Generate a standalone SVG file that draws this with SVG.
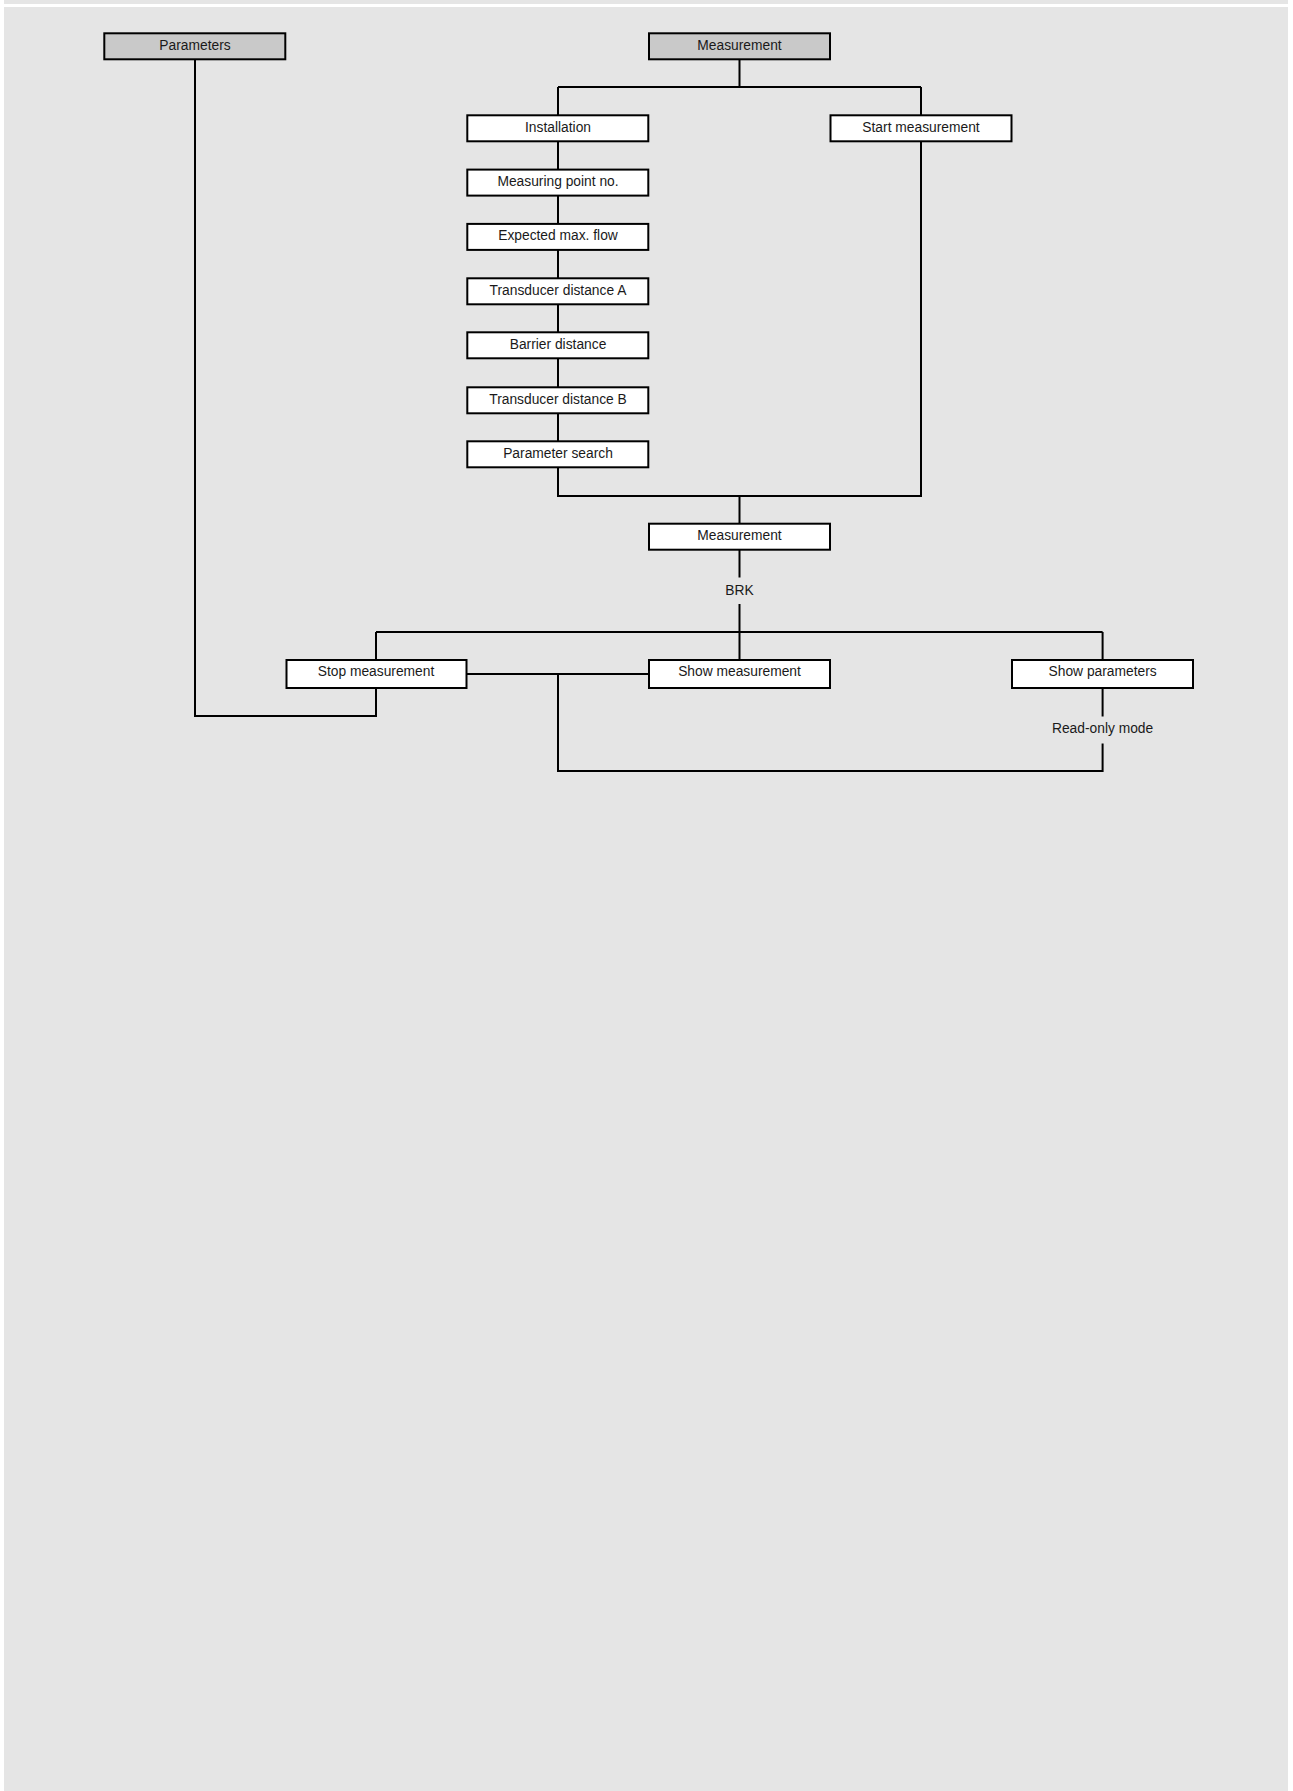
<svg xmlns="http://www.w3.org/2000/svg" width="1293" height="1791" viewBox="0 0 1293 1791">
<style>
.bg{fill:#e5e5e5}
.box{fill:#ffffff;stroke:#000000;stroke-width:2}
.hdr{fill:#c9c9c9;stroke:#000000;stroke-width:2}
.lbl{font-family:"Liberation Sans",Arial,sans-serif;font-size:13.8px;fill:#1a1a1a;text-anchor:middle}
.con{fill:none;stroke:#000000;stroke-width:2}
</style>
<rect x="0" y="0" width="1293" height="1791" fill="#ffffff"/>
<rect class="bg" x="4" y="0" width="1284" height="4"/>
<rect class="bg" x="4" y="7" width="1284" height="1784"/>
<g id="connectors">
<path class="con" d="M195 59 V716 H376 V688"/>
<path class="con" d="M739.5 59 V87 M558 87 H921 M558 87 V115 M921 87 V115"/>
<path class="con" d="M558 141 V496 H921 V141"/>
<path class="con" d="M739.5 496 V524"/>
<path class="con" d="M739.5 550 V577.5"/>
<path class="con" d="M739.5 604 V632"/>
<path class="con" d="M376 632 H1102.6 M376 632 V660 M739.5 632 V660 M1102.6 632 V660"/>
<path class="con" d="M467 674 H649"/>
<path class="con" d="M558 674 V771 H1102.6 V743.5"/>
<path class="con" d="M1102.6 688 V716.5"/>
<text class="lbl" x="739.5" y="594.5">BRK</text>
<text class="lbl" x="1102.6" y="732.5">Read-only mode</text>
</g>
<g id="n-parameters"><rect class="hdr" x="104.3" y="33.3" width="181" height="26"/><text class="lbl" x="195" y="49.8">Parameters</text></g>
<g id="n-measurement-top"><rect class="hdr" x="649" y="33.3" width="181" height="26"/><text class="lbl" x="739.5" y="49.8">Measurement</text></g>
<g id="n-installation"><rect class="box" x="467.3" y="115.3" width="181" height="26"/><text class="lbl" x="558" y="131.8">Installation</text></g>
<g id="n-start"><rect class="box" x="830.5" y="115.3" width="181" height="26"/><text class="lbl" x="921" y="131.8">Start measurement</text></g>
<g id="n-mpoint"><rect class="box" x="467.3" y="169.6" width="181" height="26"/><text class="lbl" x="558" y="186.1">Measuring point no.</text></g>
<g id="n-expected"><rect class="box" x="467.3" y="223.9" width="181" height="26"/><text class="lbl" x="558" y="240.4">Expected max. flow</text></g>
<g id="n-tda"><rect class="box" x="467.3" y="278.3" width="181" height="26"/><text class="lbl" x="558" y="294.8">Transducer distance A</text></g>
<g id="n-barrier"><rect class="box" x="467.3" y="332.3" width="181" height="26"/><text class="lbl" x="558" y="348.8">Barrier distance</text></g>
<g id="n-tdb"><rect class="box" x="467.3" y="387.3" width="181" height="26"/><text class="lbl" x="558" y="403.8">Transducer distance B</text></g>
<g id="n-psearch"><rect class="box" x="467.3" y="441.3" width="181" height="26"/><text class="lbl" x="558" y="457.8">Parameter search</text></g>
<g id="n-measurement"><rect class="box" x="649" y="523.7" width="181" height="26"/><text class="lbl" x="739.5" y="540.1">Measurement</text></g>
<g id="n-stop"><rect class="box" x="286.5" y="660" width="180" height="28"/><text class="lbl" x="376" y="675.7">Stop measurement</text></g>
<g id="n-showmeas"><rect class="box" x="649" y="660" width="181" height="28"/><text class="lbl" x="739.5" y="675.7">Show measurement</text></g>
<g id="n-showparams"><rect class="box" x="1012" y="660" width="181" height="28"/><text class="lbl" x="1102.6" y="675.7">Show parameters</text></g>
</svg>
